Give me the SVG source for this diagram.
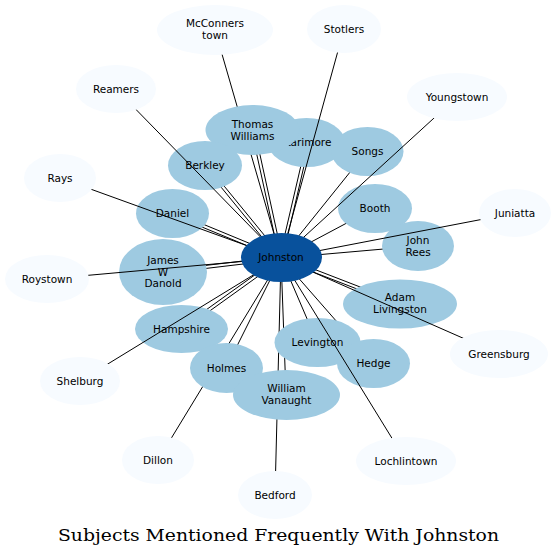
<svg xmlns="http://www.w3.org/2000/svg" width="557" height="557" viewBox="0 0 557 557">
<style>
.e{stroke:#000;stroke-width:1;fill:none}
.outer{fill:#f7fbff}
.inner{fill:#9ecae1}
.center{fill:#08519c}
text{font-family:"DejaVu Sans","Liberation Sans",sans-serif;font-size:10.5px;fill:#000;text-anchor:middle}
.title{font-family:"DejaVu Serif","Liberation Serif",serif;font-size:16px}
</style>
<rect width="557" height="557" fill="#fff"/>
<g id="connectors-under">
<line class="e" x1="282.5" y1="257.7" x2="254.5" y2="129.7"/>
<line class="e" x1="279.5" y1="258.3" x2="251.5" y2="130.3"/>
<line class="e" x1="282.5" y1="258.3" x2="309.5" y2="142.3"/>
<line class="e" x1="279.5" y1="257.7" x2="306.5" y2="141.7"/>
<line class="e" x1="282.2" y1="257.1" x2="206.2" y2="164.1"/>
<line class="e" x1="279.8" y1="259" x2="203.8" y2="166"/>
<line class="e" x1="281.6" y1="256.6" x2="172.6" y2="211.6"/>
<line class="e" x1="280.4" y1="259.4" x2="171.4" y2="214.4"/>
<line class="e" x1="280.8" y1="256.5" x2="162.8" y2="270.5"/>
<line class="e" x1="281.2" y1="259.5" x2="163.2" y2="273.5"/>
<line class="e" x1="280.1" y1="256.8" x2="181.1" y2="327.8"/>
<line class="e" x1="281.9" y1="259.2" x2="182.9" y2="330.2"/>
<line class="e" x1="280.5" y1="259.4" x2="399.5" y2="305.4"/>
<line class="e" x1="281.5" y1="256.6" x2="400.5" y2="302.6"/>
<line class="e" x1="281" y1="258" x2="367" y2="151"/>
<line class="e" x1="281" y1="258" x2="375" y2="208"/>
<line class="e" x1="281" y1="258" x2="418" y2="246"/>
<line class="e" x1="281" y1="258" x2="317" y2="342"/>
<line class="e" x1="281" y1="258" x2="373" y2="363"/>
<line class="e" x1="281" y1="258" x2="226" y2="368"/>
<line class="e" x1="281" y1="258" x2="286" y2="394"/>
<line class="e" x1="281" y1="258" x2="215" y2="30"/>
<line class="e" x1="281" y1="258" x2="158" y2="460"/>
<line class="e" x1="281" y1="258" x2="275" y2="495"/>
</g>
<g id="n-larimore"><ellipse class="inner" cx="306.5" cy="142.5" rx="38.5" ry="24.5"/><text x="308" y="146">Larimore</text></g>
<g id="n-thomas-williams"><ellipse class="inner" cx="252.5" cy="130" rx="47" ry="25"/><text x="252.5" y="127.5">Thomas</text><text x="252.5" y="139.5">Williams</text></g>
<g id="n-songs"><ellipse class="inner" cx="367.5" cy="151.5" rx="36" ry="24.5"/><text x="367.5" y="155">Songs</text></g>
<g id="n-berkley"><ellipse class="inner" cx="205" cy="165.5" rx="37" ry="24.5"/><text x="205" y="169">Berkley</text></g>
<g id="n-daniel"><ellipse class="inner" cx="172.5" cy="213.5" rx="36.5" ry="24.5"/><text x="172.5" y="217">Daniel</text></g>
<g id="n-booth"><ellipse class="inner" cx="375" cy="208.5" rx="37" ry="24.5"/><text x="375" y="212">Booth</text></g>
<g id="n-john-rees"><ellipse class="inner" cx="418" cy="246" rx="36" ry="25"/><text x="418" y="243.5">John</text><text x="418" y="255.5">Rees</text></g>
<g id="n-james-w-danold"><ellipse class="inner" cx="163" cy="272" rx="44" ry="33"/><text x="163" y="264">James</text><text x="163" y="275.5">W</text><text x="163" y="287">Danold</text></g>
<g id="n-adam-livingston"><ellipse class="inner" cx="400" cy="304" rx="57" ry="24.5"/><text x="400" y="301">Adam</text><text x="400" y="313">Livingston</text></g>
<g id="n-hampshire"><ellipse class="inner" cx="181.5" cy="329" rx="46.5" ry="24"/><text x="181.5" y="332.5">Hampshire</text></g>
<g id="n-levington"><ellipse class="inner" cx="317.5" cy="342.5" rx="43" ry="24.5"/><text x="317.5" y="346">Levington</text></g>
<g id="n-hedge"><ellipse class="inner" cx="373.5" cy="363.5" rx="36.5" ry="24.5"/><text x="373.5" y="367">Hedge</text></g>
<g id="n-holmes"><ellipse class="inner" cx="226.5" cy="368" rx="36.5" ry="25"/><text x="226.5" y="371.5">Holmes</text></g>
<g id="n-william-vanaught"><ellipse class="inner" cx="286.5" cy="395" rx="53.5" ry="25"/><text x="286.5" y="392">William</text><text x="286.5" y="404">Vanaught</text></g>
<g id="connectors">
<line class="e" x1="281" y1="258" x2="344" y2="29"/>
<line class="e" x1="281" y1="258" x2="116" y2="89"/>
<line class="e" x1="281" y1="258" x2="457" y2="97"/>
<line class="e" x1="281" y1="258" x2="60" y2="178"/>
<line class="e" x1="281" y1="258" x2="515" y2="213"/>
<line class="e" x1="281" y1="258" x2="47" y2="279"/>
<line class="e" x1="281" y1="258" x2="499" y2="354"/>
<line class="e" x1="281" y1="258" x2="80" y2="381"/>
<line class="e" x1="281" y1="258" x2="406" y2="461"/>
</g>
<g id="n-mcconners-town"><ellipse class="outer" cx="215" cy="30" rx="58" ry="25"/><text x="215" y="27">McConners</text><text x="215" y="39">town</text></g>
<g id="n-stotlers"><ellipse class="outer" cx="344" cy="29" rx="37" ry="24"/><text x="344" y="32.5">Stotlers</text></g>
<g id="n-reamers"><ellipse class="outer" cx="116" cy="89" rx="40" ry="24"/><text x="116" y="92.5">Reamers</text></g>
<g id="n-youngstown"><ellipse class="outer" cx="457" cy="97" rx="50" ry="24"/><text x="457" y="100.5">Youngstown</text></g>
<g id="n-rays"><ellipse class="outer" cx="60" cy="178" rx="36" ry="24"/><text x="60" y="181.5">Rays</text></g>
<g id="n-juniatta"><ellipse class="outer" cx="515" cy="213" rx="36" ry="24"/><text x="515" y="216.5">Juniatta</text></g>
<g id="n-roystown"><ellipse class="outer" cx="47" cy="279" rx="42" ry="24"/><text x="47" y="282.5">Roystown</text></g>
<g id="n-greensburg"><ellipse class="outer" cx="499" cy="354" rx="49" ry="24"/><text x="499" y="357.5">Greensburg</text></g>
<g id="n-shelburg"><ellipse class="outer" cx="80" cy="381" rx="40" ry="24"/><text x="80" y="384.5">Shelburg</text></g>
<g id="n-dillon"><ellipse class="outer" cx="158" cy="460" rx="36" ry="24"/><text x="158" y="463.5">Dillon</text></g>
<g id="n-lochlintown"><ellipse class="outer" cx="406" cy="461" rx="50" ry="24"/><text x="406" y="464.5">Lochlintown</text></g>
<g id="n-bedford"><ellipse class="outer" cx="275" cy="495" rx="37" ry="24"/><text x="275" y="498.5">Bedford</text></g>
<g id="n-johnston"><ellipse class="center" cx="281.5" cy="257.5" rx="40.5" ry="24.5"/><text x="281" y="261">Johnston</text></g>
<text class="title" x="278.5" y="541" textLength="441" lengthAdjust="spacingAndGlyphs">Subjects Mentioned Frequently With Johnston</text>
</svg>
